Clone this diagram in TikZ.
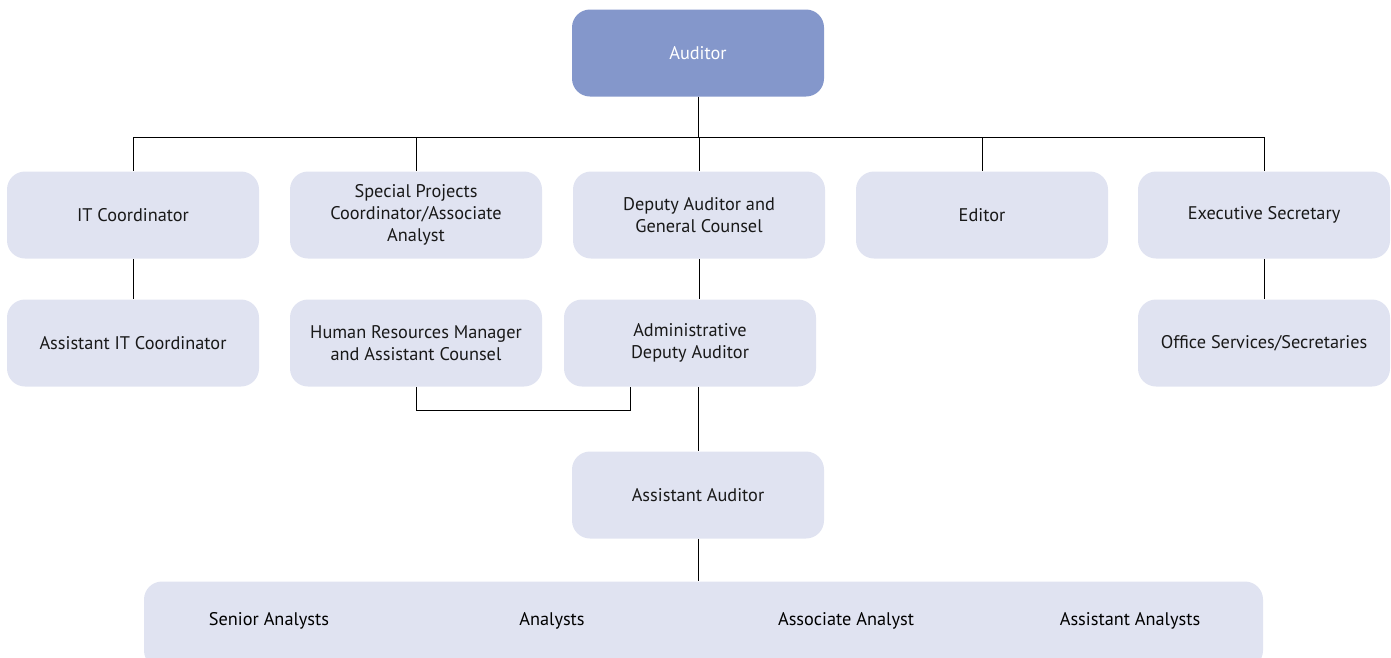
\documentclass[tikz,border=0pt]{standalone}
\usepackage{fontspec}
\setmainfont{PT Sans}
\definecolor{headfill}{HTML}{8497CB}
\definecolor{boxfill}{HTML}{E0E3F1}

\begin{document}
\begin{tikzpicture}[x=1pt,y=-1pt,line width=0.9pt,
  font=\fontsize{18.3}{22}\selectfont,
  post/.style={fill=boxfill,rounded corners=18pt,minimum width=252pt,
    minimum height=87pt,align=center,inner sep=0pt,text=black!90},
  head/.style={post,fill=headfill,text=white},
  bus/.style={draw=black}]
  \clip (0,0) rectangle (1391,657);
  % Auditor on top, five posts on the first row
  \node[head] (auditor) at (698,53) {Auditor};
  \node[post] (itco)   at (133,215) {IT Coordinator};
  \node[post] (special) at (416,215) {Special Projects\\Coordinator/Associate\\Analyst};
  \node[post] (deputy) at (699,215) {Deputy Auditor and\\General Counsel};
  \node[post] (editor) at (982,215) {Editor};
  \node[post] (execsec) at (1264,215) {Executive Secretary};
  % Second row
  \node[post] (asstit)  at (133,343) {Assistant IT Coordinator};
  \node[post] (hrman)   at (416,343) {Human Resources Manager\\and Assistant Counsel};
  \node[post] (admdep)  at (690,343) {Administrative\\Deputy Auditor};
  \node[post] (office)  at (1264,343) {Office Services/Secretaries};
  % Third row and the analysts bar
  \node[post] (asstaud) at (698,495) {Assistant Auditor};
  \node[post,minimum width=1119pt] (analysts) at (703.5,625) {};
  \node (senior) at (269,621) {Senior Analysts};
  \node (plain)  at (552,621) {Analysts};
  \node (assoc)  at (846,621) {Associate Analyst};
  \node (asstan) at (1130,621) {Assistant Analysts};
  % Connectors
  \foreach \post in {itco,special,deputy,editor,execsec}
    \draw[bus] (auditor.south) -- ++(0,40) -| (\post.north);
  \draw[bus] (itco) -- (asstit);
  \draw[bus] (execsec) -- (office);
  \draw[bus] (deputy.south) -- (deputy.south |- admdep.north);
  \draw[bus] (hrman.south) -- ++(0,23) -| ([xshift=-60pt]admdep.south);
  \draw[bus] (asstaud.north |- admdep.south) -- (asstaud.north);
  \draw[bus] (asstaud.south) -- (asstaud.south |- analysts.north);
\end{tikzpicture}
\end{document}
